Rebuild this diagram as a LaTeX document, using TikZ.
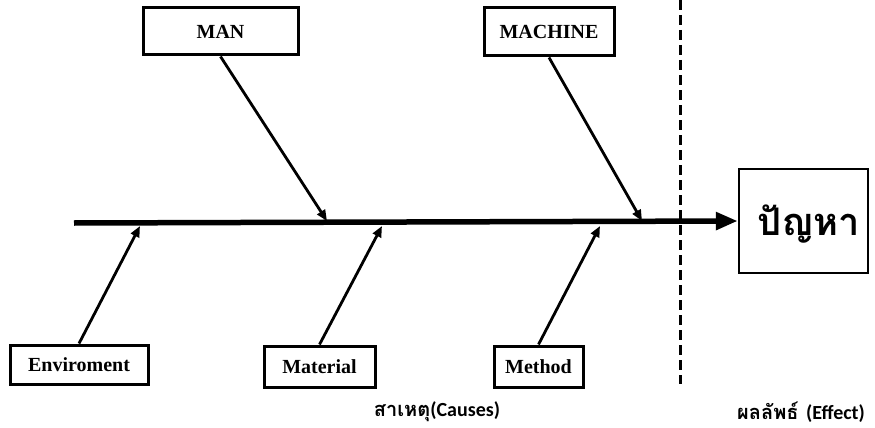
\documentclass[tikz,border=0pt]{standalone}
\usepackage{fontspec}
\usetikzlibrary{arrows.meta}
\newfontfamily\tnr{Liberation Serif}
\newfontfamily\latinsans{Carlito}
\newfontfamily\thaifont[Script=Thai]{Loma}
\tikzset{
  causebox/.style={draw, line width=3pt, inner sep=0pt, font=\tnr\bfseries\fontsize{20}{23}\selectfont},
  bone/.style={line width=2.8pt, -{Triangle[length=11pt,width=9pt]}},
  spine/.style={line width=5.5pt, -{Triangle[length=22pt,width=17pt]}},
  divider/.style={line width=3pt, dash pattern=on 10pt off 5pt},
  caption/.style={font=\bfseries\fontsize{20}{24}\selectfont, inner sep=0pt}
}
\begin{document}
\begin{tikzpicture}[x=1pt, y=-1pt]
  \useasboundingbox (0,0) rectangle (875,428);
  % cause boxes
  \node[causebox, minimum width=155pt, minimum height=47pt] (man) at (220.5,31.5) {MAN};
  \node[causebox, minimum width=130pt, minimum height=48pt] (machine) at (549,32) {MACHINE};
  \node[causebox, minimum width=138pt, minimum height=39pt] (env) at (79,364.5) {Enviroment};
  \node[causebox, minimum width=111pt, minimum height=41pt] (material) at (319.5,366.5) {Material};
  \node[causebox, minimum width=89pt, minimum height=41pt] (method) at (538.5,366.5) {Method};
  % effect box
  \node[draw, line width=2.4pt, minimum width=129pt, minimum height=104pt, inner sep=0pt] (problem) at (803.5,221) {};
  \node[font=\thaifont\bfseries\fontsize{38}{44}\selectfont, inner sep=0pt] (problemText)
        at ([xshift=5pt,yshift=-3pt]problem.center) {ปัญหา};
  % spine and where the bones meet it
  \coordinate (tail) at (74,223);
  \coordinate (manTip) at (327,221);
  \coordinate (machineTip) at (642,221);
  \coordinate (envTip) at (140,226);
  \coordinate (materialTip) at (382,226);
  \coordinate (methodTip) at (600,226);
  % divider between causes and effect
  \coordinate (divTop) at (680,0);
  \coordinate (divBottom) at (680,384);
  \draw[divider] (divTop) -- (divBottom);
  \draw[spine] (tail) -- (problem.west);
  % bones
  \draw[bone] (man.south) -- (manTip);
  \draw[bone] (machine.south) -- (machineTip);
  \draw[bone] (env.north) -- (envTip);
  \draw[bone] (material.north) -- (materialTip);
  \draw[bone] (method.north) -- (methodTip);
  % captions
  \node[caption] (causes) at (437,412) {{\thaifont สาเหตุ}{\latinsans (Causes)}};
  \node[caption] (effect) at (801,412) {{\thaifont ผลลัพธ์} {\latinsans (Effect)}};
\end{tikzpicture}
\end{document}
